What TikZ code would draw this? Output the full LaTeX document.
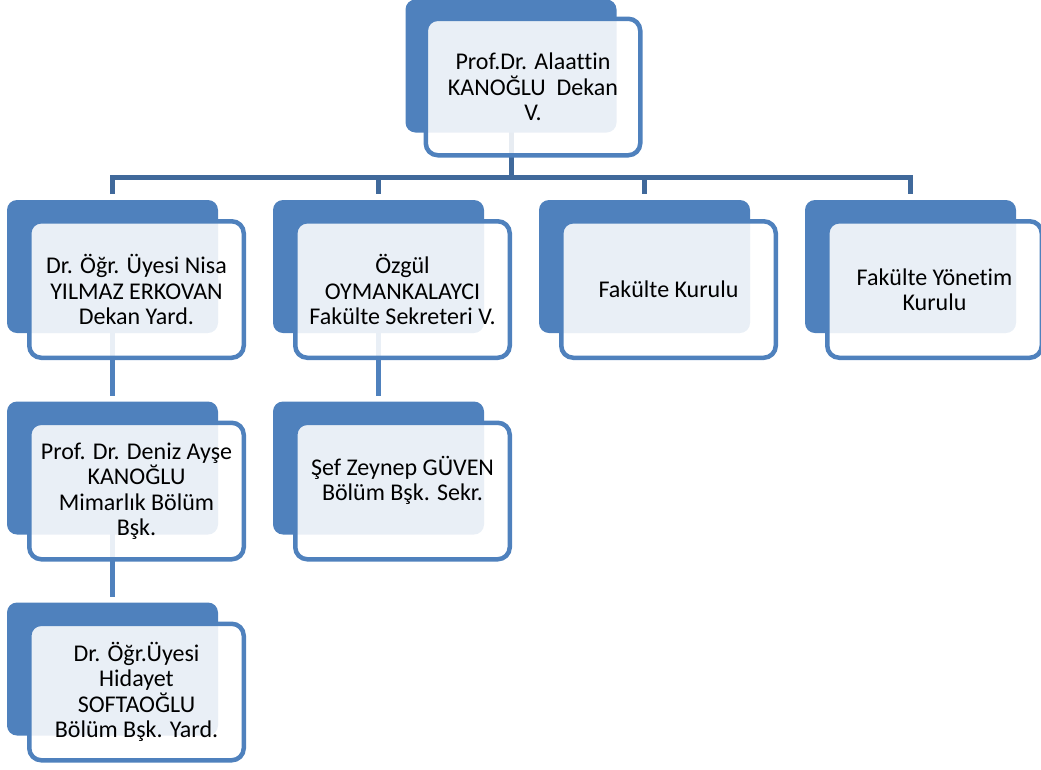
\documentclass[tikz,border=0pt]{standalone}
\usepackage{fontspec}
\setmainfont[Ligatures=NoCommon]{Carlito}
\usetikzlibrary{backgrounds,positioning}

\definecolor{accblue}{HTML}{4F81BD}
\definecolor{busblue}{HTML}{40699B}

\begin{document}
\begin{tikzpicture}[x=1pt,y=-1pt,
   backbox/.style={rectangle, rounded corners=10pt, fill=accblue, minimum width=211pt, minimum height=133pt, inner sep=0pt, outer sep=0pt},
   frontbox/.style={rectangle, rounded corners=12pt, draw=accblue, line width=4.5pt, fill=white, fill opacity=0.88, text opacity=1, minimum width=214.5pt, minimum height=136.5pt, inner sep=0pt, outer sep=0pt, align=center, font=\fontsize{24}{25.5}\selectfont},
   bus/.style={draw=busblue, line width=5pt},
   link/.style={draw=accblue, line width=5pt, shorten >=6pt}]
   \useasboundingbox (0,0) rectangle (1041,769);

   % dekan
   \node[backbox] (dekanB) at (511,66) {};
   \node[frontbox] (dekan) at ([shift={(22,21)}]dekanB.center) {Prof.Dr. Alaattin\\KANOĞLU\ \ Dekan\\V.};

   % second row
   \node[backbox] (nisaB) at (112.5,266.5) {};
   \node[frontbox] (nisa) at ([shift={(24,23)}]nisaB.center) {Dr. Öğr. Üyesi Nisa\\YILMAZ ERKOVAN\\Dekan Yard.};
   \node[backbox] (ozgulB) at (378.5,266.5) {};
   \node[frontbox] (ozgul) at ([shift={(24,23)}]ozgulB.center) {Özgül\\OYMANKALAYCI\\Fakülte Sekreteri V.};
   \node[backbox] (fkB) at (644.5,266.5) {};
   \node[frontbox] (fk) at ([shift={(24,23)}]fkB.center) {Fakülte Kurulu};
   \node[backbox] (fykB) at (910.5,266.5) {};
   \node[frontbox] (fyk) at ([shift={(24,23)}]fykB.center) {Fakülte Yönetim\\Kurulu};

   % third row
   \node[backbox] (denizB) at (112.5,468) {};
   \node[frontbox] (deniz) at ([shift={(24,23)}]denizB.center) {Prof. Dr. Deniz Ayşe\\KANOĞLU\\Mimarlık Bölüm\\Bşk.};
   \node[backbox] (zeynepB) at (378.5,468) {};
   \node[frontbox] (zeynep) at ([shift={(24,23)}]zeynepB.center) {Şef Zeynep GÜVEN\\Bölüm Bşk. Sekr.\\ \mbox{}};

   % fourth row
   \node[backbox] (hidayetB) at (112.5,669) {};
   \node[frontbox] (hidayet) at ([shift={(24,23)}]hidayetB.center) {Dr. Öğr.Üyesi\\Hidayet\\SOFTAOĞLU\\Bölüm Bşk. Yard.};

   \begin{scope}[on background layer]
     \draw[bus] (dekanB.center) -- ([yshift=-45pt]dekanB.south) coordinate (bus);
     \draw[bus, shorten <=6pt, shorten >=6pt] (nisaB.north) |- (bus) -| (fykB.north);
     \draw[bus, shorten >=6pt] (bus -| ozgulB.north) -- (ozgulB.north);
     \draw[bus, shorten >=6pt] (bus -| fkB.north) -- (fkB.north);
     \draw[link] (nisaB.center) -- (denizB.north);
     \draw[link] (denizB.center) -- (hidayetB.north);
     \draw[link] (ozgulB.center) -- (zeynepB.north);
   \end{scope}

\end{tikzpicture}
\end{document}
